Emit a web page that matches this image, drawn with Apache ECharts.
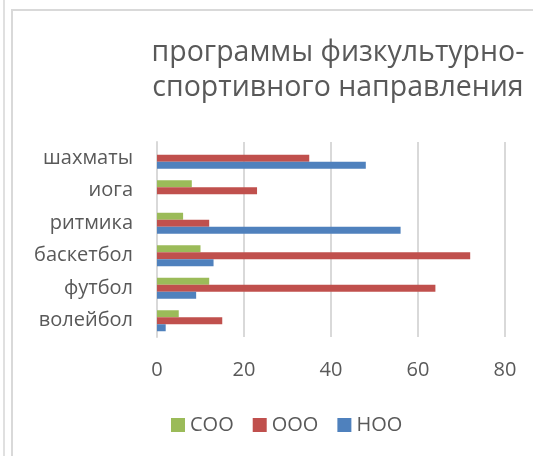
<!DOCTYPE html>
<html>
<head>
<meta charset="utf-8">
<script src="https://cdn.jsdelivr.net/npm/echarts@6/dist/echarts.min.js"></script>
<style>
html,body{margin:0;padding:0;background:#fff;}
#chart{width:533px;height:456px;}
</style>
</head>
<body>
<div id="chart"></div>
<script>
// Data (bottom-to-top category order for ECharts y category axis)
var categories = ['волейбол', 'футбол', 'баскетбол', 'ритмика', 'иога', 'шахматы'];
var seriesNames = ['СОО', 'ООО', 'НОО'];
var sooValues = [5, 12, 10, 6, 8, 0];
var oooValues = [15, 64, 72, 12, 23, 35];
var nooValues = [2, 9, 13, 56, 0, 48];
var xTicks = [0, 20, 40, 60, 80];
var titleText = 'программы физкультурно-\nспортивного направления';

var colors = ['#9bbb59', '#c0504d', '#4f81bd'];
var font = 'Open Sans';
var chart = echarts.init(document.getElementById('chart'), null, {renderer: 'canvas'});
var valuesList = [sooValues, oooValues, nooValues];
var series = seriesNames.map(function (n, i) {
  return {
    name: n,
    type: 'bar',
    data: valuesList[i],
    barWidth: 7,
    barGap: '0%',
    barCategoryGap: '35%',
    itemStyle: {color: colors[i]},
    emphasis: {disabled: true}
  };
});
chart.setOption({
  animation: false,
  backgroundColor: '#fff',
  title: {
    text: titleText,
    left: 333,
    textAlign: 'center',
    top: 30,
    textStyle: {fontFamily: font, fontSize: 28.5, fontWeight: 'normal', color: '#595959', lineHeight: 35}
  },
  graphic: [
    {type: 'line', shape: {x1: 4, y1: 0, x2: 4, y2: 456}, style: {stroke: '#e0e0e0', lineWidth: 2}},
    {type: 'polyline', shape: {points: [[12, 456], [12, 10], [533, 10]]}, style: {stroke: '#d9d9d9', lineWidth: 2, fill: null}}
  ],
  legend: {
    data: seriesNames,
    top: 410,
    left: 166,
    itemWidth: 14,
    itemHeight: 14,
    itemGap: 19,
    itemStyle: {borderWidth: 0},
    icon: 'rect',
    textStyle: {fontFamily: font, fontSize: 20, color: '#595959'}
  },
  grid: {left: 157, right: 28, top: 142, bottom: 119, containLabel: false},
  xAxis: {
    type: 'value',
    min: xTicks[0],
    max: xTicks[xTicks.length - 1],
    interval: 20,
    axisLine: {show: false},
    axisTick: {show: false},
    splitLine: {show: true, lineStyle: {color: '#d9d9d9', width: 2}},
    axisLabel: {fontFamily: font, fontSize: 20, color: '#595959', margin: 23}
  },
  yAxis: {
    type: 'category',
    data: categories,
    axisLine: {show: true, lineStyle: {color: '#d9d9d9', width: 2}},
    axisTick: {show: false},
    axisLabel: {fontFamily: font, fontSize: 20, color: '#595959', margin: 24}
  },
  series: series
});
</script>
</body>
</html>
